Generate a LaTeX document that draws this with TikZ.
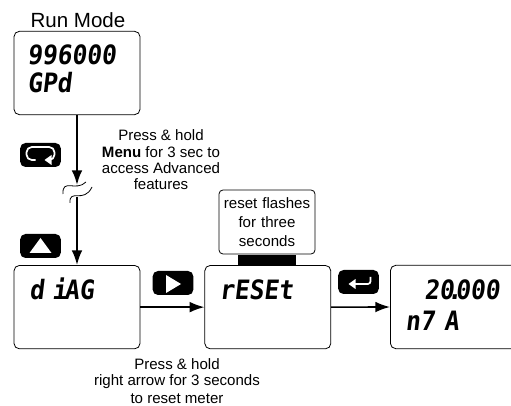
\documentclass[tikz,border=0pt]{standalone}
\usepackage{fontspec}
\setmainfont{Liberation Sans}
\newfontfamily\segfont[FakeSlant=0.12,FakeStretch=0.92]{DejaVu Sans Mono Bold}
\usepackage{tikz}
\usetikzlibrary{arrows.meta,positioning,calc}

\begin{document}
\begin{tikzpicture}[
        x=0.75pt, y=-0.75pt,
        display/.style={rectangle, draw, rounded corners=4pt, minimum width=94.5pt, minimum height=62.5pt, line width=0.6pt},
        key/.style={rectangle, fill=black, rounded corners=4pt, minimum width=30.5pt, minimum height=18pt, inner sep=0pt},
        bar/.style={rectangle, fill=black, minimum width=43pt, minimum height=7.5pt, inner sep=0pt},
        reading/.style={font=\segfont\fontsize{20}{20}\selectfont, inner sep=0pt, anchor=base west},
        note/.style={font=\fontsize{11.3}{12.2}\selectfont, align=center, inner sep=0pt},
        arrow/.style={-{Latex[length=11pt,width=8pt]}, line width=1.2pt},
        flow/.style={-{Latex[length=11pt,width=8pt]}, line width=1.5pt},
        glyph/.style={white, line width=1.3pt}
    ]
        \clip (0,0) rectangle (511,406);

        % Displays
        \node[display] (run) at (77,73) {};
        \node[display, below=112.5pt of run] (diag) {};
        \node[display, right=48pt of diag] (reset) {};
        \node[display, anchor=west] (meter) at (390,307) {};

        % Readings
        \node[reading] (runtop) at (27,65) {996000};
        \node[reading] (rununit) at (27,93) {GPd};
        \node[reading] (diagtxt) at (29,300) {d\kern-5pt\ i\kern-2pt AG};
        \node[reading] (resettxt) at (219,300) {rESEt};
        \node[reading] (metertop) at (424,300) {20\kern-5pt.\kern-5pt000};
        \node[reading] (meterunit) at (405,330) {n7\kern-4pt\ A};

        % Keys
        \node[key] (menukey) at (40.5,155) {};
        \node[key] (upkey) at (40.5,246) {};
        \node[key] (rightkey) at (173,283) {};
        \node[key] (enterkey) at (358.5,282) {};
        \draw[glyph, rounded corners=4pt] ($(menukey)+(-5,5)$) -- ($(menukey)+(-14,5)$) -- ($(menukey)+(-14,-8)$) -- ($(menukey)+(14,-8)$) -- ($(menukey)+(14,5)$) -- ($(menukey)+(8,5)$);
        \fill[white] ($(menukey)+(4,5)$) -- ($(menukey)+(11,0)$) -- ($(menukey)+(11,10)$) -- cycle;
        \fill[white] ($(upkey)+(-11,7)$) -- ($(upkey)+(11,7)$) -- ($(upkey)+(0,-8)$) -- cycle;
        \fill[white] ($(rightkey)+(-7,-8)$) -- ($(rightkey)+(-7,10)$) -- ($(rightkey)+(8,1)$) -- cycle;
        \draw[glyph, rounded corners=2pt] ($(enterkey)+(12,-5)$) -- ($(enterkey)+(12,2)$) -- ($(enterkey)+(-6,2)$);
        \fill[white] ($(enterkey)+(-10,2)$) -- ($(enterkey)+(-3,-3)$) -- ($(enterkey)+(-3,7)$) -- cycle;

        % Reset note
        \node[rectangle, draw, rounded corners=3pt, minimum width=72pt, minimum height=48pt, note, line width=0.6pt, text width=72pt] (flashnote) at (267,222) {reset flashes\\[2pt]for three\\[2pt]seconds};
        \node[bar, below=0pt of flashnote] (flashbar) {};

        % Texts
        \node[inner sep=0pt, font=\fontsize{15.4}{18}\selectfont] (title) at (78,20) {Run Mode};
        \node[note] (menunote) at (161,160) {Press \& hold\\\textbf{Menu} for 3 sec to\\access Advanced\\features};
        \node[note] (arrownote) at (177,381) {Press \& hold\\right arrow for 3 seconds\\[1pt]to reset meter};

        % Break in the long arrow
        \coordinate (breaktop) at (77,185);
        \coordinate (breakbot) at (77,197);
        \draw[flow] (run.south -| breaktop) -- (breaktop);
        \draw[flow] (breakbot) -- (diag.north);
        \draw[line width=0.6pt] (63,194) .. controls (62,178) and (76,192) .. (86,182);
        \draw[line width=0.6pt] (70,203) .. controls (69,188) and (84,204) .. (92,187);

        % Arrows
        \draw[arrow] (diag.east) -- (reset.west);
        \draw[arrow] (reset.east) -- (meter.west);
    \end{tikzpicture}
\end{document}
